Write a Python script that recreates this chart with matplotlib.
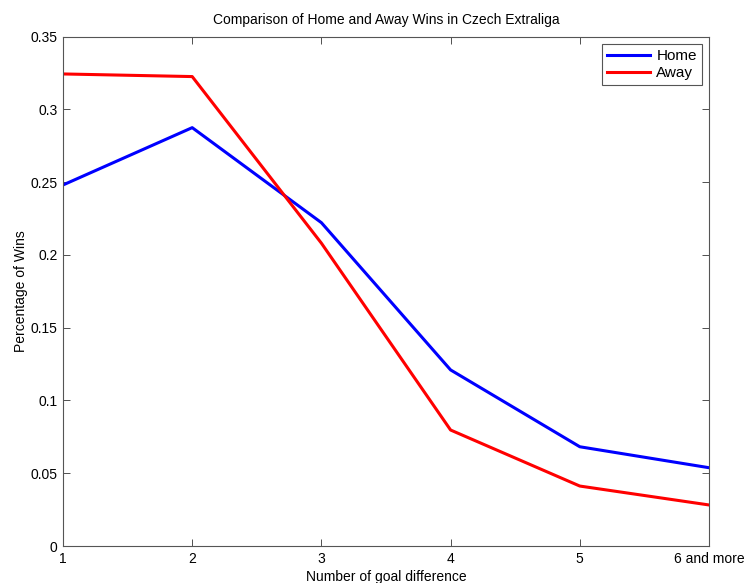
import matplotlib
matplotlib.use("Agg")
import matplotlib.pyplot as plt

categories = ["1", "2", "3", "4", "5", "6 and more"]
home = [0.2481, 0.2875, 0.2222, 0.1210, 0.0682, 0.0538]
away = [0.3244, 0.3226, 0.2081, 0.0797, 0.0412, 0.0282]
yticks = [0, 0.05, 0.1, 0.15, 0.2, 0.25, 0.3, 0.35]
ytick_labels = ["0", "0.05", "0.1", "0.15", "0.2", "0.25", "0.3", "0.35"]

plt.rcParams['font.family'] = ['Liberation Sans', 'DejaVu Sans']

fig = plt.figure(figsize=(7.45, 5.83), dpi=100)
ax = fig.add_axes([63/745, 37/583, (709-63)/745, (546-36.7)/583])

x = list(range(1, len(categories) + 1))
ax.plot(x, home, color='#0000ff', lw=2.2, label='Home')
ax.plot(x, away, color='#ff0000', lw=2.2, label='Away')

ax.set_xlim(1, len(categories))
ax.set_ylim(0, 0.35)
ax.set_xticks(x)
ax.set_xticklabels(categories, fontsize=10)
ax.set_yticks(yticks)
ax.set_yticklabels(ytick_labels, fontsize=10)
ax.tick_params(direction='in', top=True, right=True, length=5, width=0.6, color='#333333', pad=4)
for s in ax.spines.values():
    s.set_color('#555555')
    s.set_linewidth(0.8)

ax.set_title('Comparison of Home and Away Wins in Czech Extraliga', fontsize=10, pad=9)
ax.set_xlabel('Number of goal difference', fontsize=10, labelpad=3)
ax.set_ylabel('Percentage of Wins', fontsize=10, labelpad=2)

leg = ax.legend(loc='upper right', fontsize=11, fancybox=False, framealpha=1,
                edgecolor='#555555', handlelength=2.8, borderaxespad=0.45,
                handletextpad=0.4, borderpad=0.35, labelspacing=0.2)
leg.get_frame().set_linewidth(0.8)

fig.savefig('out.png', dpi=100)
